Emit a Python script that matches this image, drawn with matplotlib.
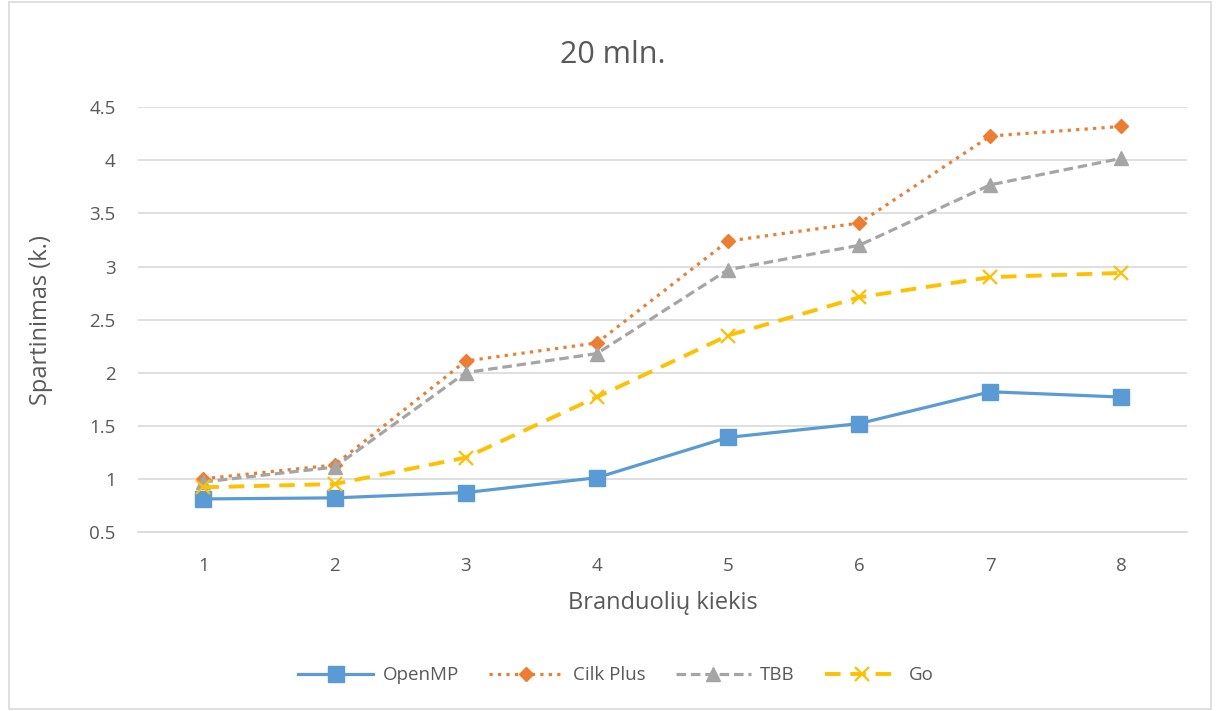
import matplotlib.pyplot as plt
from matplotlib.patches import Rectangle

# data
cores = [1, 2, 3, 4, 5, 6, 7, 8]
openmp = [0.81, 0.82, 0.87, 1.01, 1.39, 1.52, 1.82, 1.77]
cilk_plus = [1.00, 1.13, 2.11, 2.28, 3.24, 3.41, 4.23, 4.32]
tbb = [0.97, 1.11, 2.00, 2.18, 2.97, 3.20, 3.77, 4.02]
go = [0.92, 0.95, 1.20, 1.77, 2.35, 2.71, 2.90, 2.94]
y_ticks = [0.5, 1, 1.5, 2, 2.5, 3, 3.5, 4, 4.5]
y_tick_labels = ['0.5', '1', '1.5', '2', '2.5', '3', '3.5', '4', '4.5']

plt.rcParams['font.family'] = ['Open Sans', 'DejaVu Sans']
txt = '#595959'

fig = plt.figure(figsize=(12.2, 7.11), dpi=100)
ax = fig.add_axes([0.113, 0.252, 0.860, 0.597])

# outer chart border
fig.patches.append(Rectangle((0.007, 0.003), 0.986, 0.994, transform=fig.transFigure,
                             fill=False, edgecolor='#d9d9d9', linewidth=1.2))

ax.plot(cores, openmp, '-', color='#5B9BD5', lw=2.3, marker='s', ms=12, label='OpenMP')
ax.plot(cores, cilk_plus, ':', color='#ED7D31', lw=2.3, marker='D', ms=7.5, label='Cilk Plus')
ax.plot(cores, tbb, '--', color='#A5A5A5', lw=2.3, marker='^', ms=9.5, label='TBB',
        dashes=(3, 1.5))
ax.plot(cores, go, '--', color='#FFC000', lw=2.8, marker='x', ms=9.5, mew=1.6, label='Go',
        dashes=(4, 2.5))

ax.set_xlim(0.5, 8.5)
ax.set_ylim(0.5, 4.5)
ax.set_xticks(cores)
ax.set_yticks(y_ticks)
ax.set_yticklabels(y_tick_labels)
ax.grid(axis='y', color='#d9d9d9', lw=1.2)
ax.set_axisbelow(True)
for s in ['top', 'right', 'left']:
    ax.spines[s].set_visible(False)
ax.spines['bottom'].set_color('#d9d9d9')
ax.spines['bottom'].set_linewidth(1.2)
ax.tick_params(axis='both', length=0, labelsize=13.5, colors=txt)
ax.tick_params(axis='x', pad=18)
ax.tick_params(axis='y', pad=16)

fig.text(0.502, 0.922, '20 mln.', fontsize=22, color=txt, ha='center', va='center')
ax.set_xlabel('Branduolių kiekis', fontsize=17, color=txt, labelpad=12)
ax.set_ylabel('Spartinimas (k.)', fontsize=17, color=txt, labelpad=26)

fig.legend(loc='center', bbox_to_anchor=(0.505, 0.05), ncol=4, frameon=False,
           fontsize=13.5, labelcolor=txt, handlelength=4.0, handletextpad=0.5,
           columnspacing=1.6)

fig.savefig('out.png', dpi=100)
